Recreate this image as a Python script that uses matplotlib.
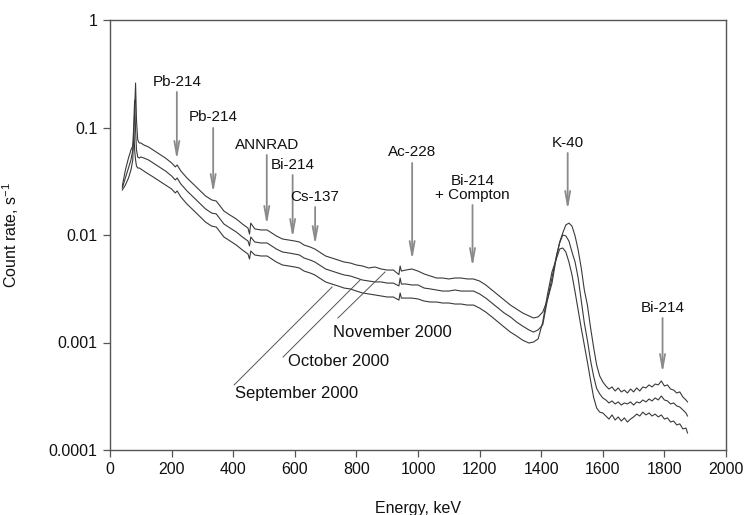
import matplotlib
matplotlib.use("Agg")
import matplotlib.pyplot as plt

plt.rcParams['font.family'] = ['Liberation Sans', 'DejaVu Sans']
plt.rcParams['mathtext.fontset'] = 'custom'
plt.rcParams['mathtext.rm'] = 'Liberation Sans'
plt.rcParams['mathtext.it'] = 'Liberation Sans:italic'

# ---------------- data ----------------
energy = [40, 50, 60, 68, 74, 77, 80, 83, 86, 90,
          95, 100, 110, 125, 140, 160, 180, 200, 212, 218,
          230, 250, 270, 290, 310, 330, 345, 355, 370, 390,
          410, 430, 448, 453, 457, 470, 490, 510, 525, 540,
          560, 580, 600, 615, 630, 650, 665, 680, 700, 720,
          740, 760, 780, 800, 820, 840, 860, 880, 900, 920,
          938, 942, 946, 960, 980, 1000, 1020, 1040, 1060, 1080,
          1100, 1120, 1140, 1160, 1180, 1200, 1220, 1240, 1260, 1280,
          1300, 1320, 1340, 1360, 1375, 1390, 1405, 1420, 1435, 1450,
          1460, 1470, 1480, 1490, 1500, 1510, 1520, 1530, 1540, 1550,
          1560, 1570, 1580, 1590, 1600, 1610, 1620, 1630, 1640, 1650,
          1660, 1670, 1680, 1690, 1700, 1710, 1720, 1730, 1740, 1750,
          1760, 1770, 1780, 1790, 1800, 1810, 1820, 1830, 1840, 1850,
          1860, 1870, 1875]

november = [0.0286, 0.0402, 0.0520, 0.0618, 0.0673, 0.0766, 0.146, 0.259, 0.117, 0.0766,
            0.0718, 0.0718, 0.0688, 0.0659, 0.0618, 0.0566, 0.0520, 0.0468, 0.0430, 0.0448,
            0.0394, 0.0339, 0.0298, 0.0262, 0.0231, 0.0212, 0.0207, 0.0190, 0.0167, 0.0153,
            0.0141, 0.01265, 0.0116, 0.0102, 0.0129, 0.0114, 0.01114, 0.01114, 0.01044, 0.0098,
            0.00918, 0.00898, 0.00879, 0.00861, 0.00807, 0.00773, 0.00741, 0.00695, 0.00638, 0.00611,
            0.00585, 0.00561, 0.00549, 0.00526, 0.00515, 0.00493, 0.00504, 0.00483, 0.00472, 0.00472,
            0.00428, 0.00515, 0.00462, 0.00472, 0.00483, 0.00462, 0.00434, 0.00416, 0.00398, 0.00398,
            0.0039, 0.00398, 0.00398, 0.0039, 0.0039, 0.00373, 0.00343, 0.00308, 0.00277, 0.00248,
            0.00223, 0.00205, 0.00188, 0.00177, 0.00169, 0.00173, 0.00192, 0.00248, 0.00357, 0.00638,
            0.00861, 0.01044, 0.0124, 0.0129, 0.0121, 0.0098, 0.00725, 0.00493, 0.00308, 0.00223,
            0.00139, 0.000908, 0.000618, 0.000488, 0.00043, 0.000394, 0.000369, 0.000386, 0.000354, 0.000378,
            0.000347, 0.000361, 0.000339, 0.000369, 0.000347, 0.000378, 0.000354, 0.000386, 0.000378, 0.000403,
            0.000386, 0.000411, 0.000403, 0.000439, 0.000394, 0.000403, 0.000369, 0.000361, 0.000339, 0.000347,
            0.000311, 0.000292, 0.00028]

october = [0.0274, 0.0339, 0.042, 0.0499, 0.0618, 0.1055, 0.180, 0.0948, 0.0618, 0.0532,
           0.052, 0.0532, 0.052, 0.0499, 0.0468, 0.043, 0.0394, 0.0354, 0.0325, 0.0339,
           0.0298, 0.0257, 0.0226, 0.0199, 0.0175, 0.016, 0.0157, 0.0144, 0.01265, 0.0116,
           0.01067, 0.00958, 0.00879, 0.00791, 0.00958, 0.00861, 0.00843, 0.00843, 0.00791, 0.00741,
           0.00695, 0.00681, 0.00665, 0.00652, 0.00611, 0.00585, 0.00561, 0.00526, 0.00483, 0.00462,
           0.00443, 0.00425, 0.00416, 0.00398, 0.00381, 0.00373, 0.00366, 0.00366, 0.00357, 0.00357,
           0.00336, 0.00398, 0.0035, 0.0035, 0.00343, 0.00343, 0.00321, 0.00315, 0.00308, 0.00301,
           0.00301, 0.00308, 0.00301, 0.00301, 0.00301, 0.00283, 0.00259, 0.00233, 0.00209, 0.00188,
           0.00173, 0.00155, 0.00142, 0.00131, 0.00125, 0.00131, 0.00146, 0.00248, 0.00398, 0.00652,
           0.00843, 0.0100, 0.0098, 0.00879, 0.00695, 0.00561, 0.00398, 0.00248, 0.00152, 0.00105,
           0.000687, 0.000488, 0.000374, 0.000332, 0.000305, 0.000292, 0.000274, 0.000286, 0.000268, 0.00028,
           0.000262, 0.000274, 0.000268, 0.00028, 0.000262, 0.00028, 0.000274, 0.000292, 0.00028, 0.000298,
           0.000286, 0.000305, 0.000292, 0.000318, 0.000292, 0.000286, 0.000268, 0.000274, 0.000257, 0.000251,
           0.000236, 0.000221, 0.000207]

september = [0.0262, 0.0292, 0.0339, 0.0402, 0.0499, 0.0989, 0.0618, 0.0499, 0.0438, 0.042,
             0.042, 0.0411, 0.0394, 0.0369, 0.0347, 0.0318, 0.0292, 0.0268, 0.0246, 0.0257,
             0.0226, 0.0194, 0.0171, 0.015, 0.0132, 0.0121, 0.01186, 0.0109, 0.00958, 0.00879,
             0.00807, 0.00725, 0.00665, 0.00598, 0.0071, 0.00652, 0.00638, 0.00638, 0.00598, 0.00561,
             0.00526, 0.00515, 0.00504, 0.00493, 0.00462, 0.00443, 0.00425, 0.00398, 0.00366, 0.0035,
             0.00336, 0.00321, 0.00315, 0.00301, 0.00289, 0.00283, 0.00277, 0.00271, 0.00265, 0.00265,
             0.00248, 0.00289, 0.00259, 0.00259, 0.00259, 0.00254, 0.00243, 0.00238, 0.00238, 0.00233,
             0.00233, 0.00228, 0.00228, 0.00223, 0.00223, 0.00209, 0.00192, 0.00173, 0.00155, 0.00139,
             0.00125, 0.00115, 0.00105, 0.000989, 0.00101, 0.00108, 0.00155, 0.00275, 0.00453, 0.00611,
             0.00741, 0.00757, 0.00695, 0.00561, 0.00425, 0.00295, 0.0020, 0.00136, 0.00095, 0.000659,
             0.000448, 0.000311, 0.000246, 0.000225, 0.000221, 0.000207, 0.000194, 0.000212, 0.00019, 0.000203,
             0.000186, 0.000199, 0.000182, 0.000194, 0.000203, 0.000216, 0.000207, 0.000225, 0.000212, 0.000221,
             0.000207, 0.000216, 0.000203, 0.000212, 0.000194, 0.000199, 0.000182, 0.000186, 0.000171, 0.000175,
             0.000157, 0.00016, 0.000144]

peak_labels = ["Pb-214", "Pb-214", "ANNRAD", "Bi-214", "Cs-137", "Ac-228",
               "Bi-214\n+ Compton", "K-40", "Bi-214"]
peak_energy = [217, 335, 509, 593, 666, 981, 1177, 1486, 1794]
arrow_top = [0.214, 0.099, 0.0555, 0.0361, 0.0182, 0.0468, 0.019, 0.0579, 0.00169]
arrow_tip = [0.0499, 0.0246, 0.0124, 0.00938, 0.00807, 0.00585, 0.00504, 0.0171, 0.00052]

month_labels = ["November 2000", "October 2000", "September 2000"]
month_text_pos = [(724, 0.00125), (578, 0.000659), (406, 0.000339)]
month_line_start = [(740, 0.00169), (562, 0.000733), (403, 0.000403)]
month_line_end = [(893, 0.00453), (812, 0.00381), (721, 0.00328)]

x_ticks = [0, 200, 400, 600, 800, 1000, 1200, 1400, 1600, 1800, 2000]
y_ticks = [0.0001, 0.001, 0.01, 0.1, 1]
y_tick_labels = ["0.0001", "0.001", "0.01", "0.1", "1"]

# ---------------- figure ----------------
W, H = 747, 515
fig = plt.figure(figsize=(W / 100, H / 100), dpi=100)
ax = fig.add_axes([110 / W, 65 / H, 616 / W, 430 / H])

curve_color = '#3a3a3a'
for series in (november, october, september):
    ax.plot(energy, series, color=curve_color, lw=0.8)

ax.set_yscale('log')
ax.set_xlim(0, 2000)
ax.set_ylim(0.0001, 1)
ax.set_xticks(x_ticks)
ax.set_xticklabels([str(t) for t in x_ticks])
ax.set_yticks(y_ticks)
ax.set_yticklabels(y_tick_labels)
ax.minorticks_off()
ax.tick_params(axis='both', which='major', direction='out', length=5, width=0.9,
               color='#555555', labelsize=11.5, pad=4, labelcolor='#111111')

for sp in ax.spines.values():
    sp.set_color('#555555')
    sp.set_linewidth(1.0)

ax.set_xlabel('Energy, keV', fontsize=11.5, labelpad=17, color='#111111')
ax.set_ylabel('Count rate, s$^{-1}$', fontsize=11.5, labelpad=20, color='#111111')

arrow_color = '#8a8a8a'
for lab, e, top, tip in zip(peak_labels, peak_energy, arrow_top, arrow_tip):
    ax.annotate('', xy=(e, tip), xytext=(e, top),
                arrowprops=dict(arrowstyle='->,head_length=1.0,head_width=0.18',
                                color=arrow_color, lw=1.3, shrinkA=0, shrinkB=0))
    ax.annotate(lab, xy=(e, top), xytext=(0, 2.5), textcoords='offset points',
                ha='center', va='bottom', fontsize=11, color='#111111',
                multialignment='center', linespacing=1.0)

for lab, tp, ls, le in zip(month_labels, month_text_pos, month_line_start, month_line_end):
    ax.plot([ls[0], le[0]], [ls[1], le[1]], color='#555555', lw=0.7)
    ax.text(tp[0], tp[1], lab, ha='left', va='center', fontsize=12, color='#111111')

fig.savefig('out.png', dpi=100)
